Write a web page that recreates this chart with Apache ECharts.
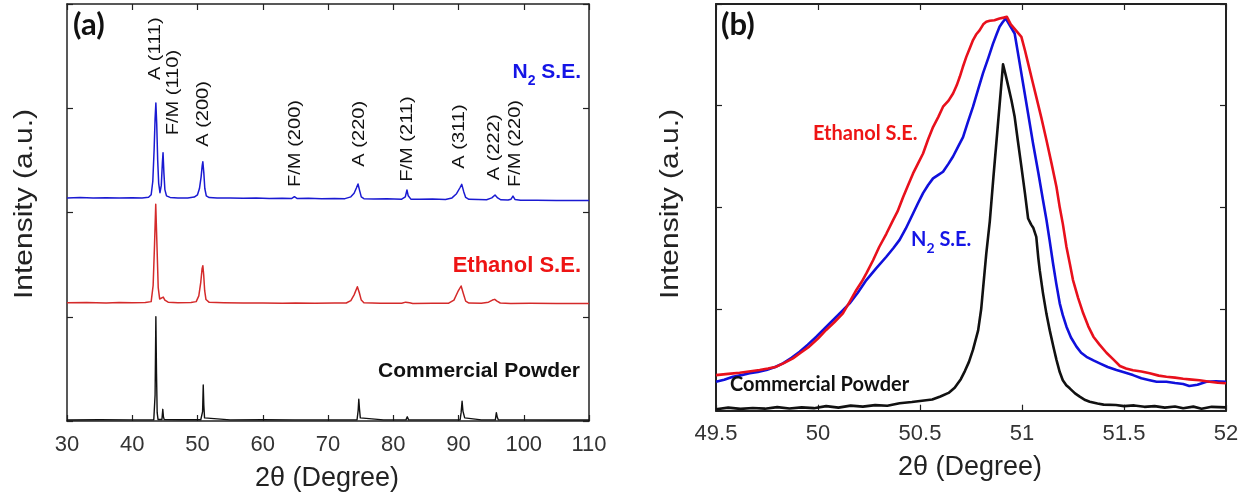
<!DOCTYPE html>
<html>
<head>
<meta charset="utf-8">
<script src="https://cdn.jsdelivr.net/npm/echarts@6/dist/echarts.min.js"></script>
<style>
  html, body { margin: 0; padding: 0; background: #fff; }
  #chart { width: 1248px; height: 496px; }
</style>
</head>
<body>
<div id="chart"></div>
<script>
// ---------- Panel (a): full XRD patterns, [2theta, intensity] ----------
const patternN2 = [
  [30.0, 2.140], [32.0, 2.143], [34.0, 2.139], [36.0, 2.142], [38.0, 2.138], [40.0, 2.141],
  [41.5, 2.140], [42.5, 2.146], [42.9, 2.170], [43.15, 2.300], [43.35, 2.600], [43.50, 2.900],
  [43.62, 3.050], [43.75, 2.850], [43.90, 2.500], [44.05, 2.280], [44.25, 2.190], [44.45, 2.260],
  [44.62, 2.480], [44.72, 2.574], [44.85, 2.380], [45.00, 2.220], [45.25, 2.160], [45.8, 2.145],
  [47.0, 2.140], [48.5, 2.140], [49.5, 2.148], [50.0, 2.170], [50.3, 2.230], [50.55, 2.340],
  [50.72, 2.450], [50.82, 2.487], [50.97, 2.380], [51.12, 2.230], [51.35, 2.160], [51.8, 2.143],
  [53.0, 2.138], [55.0, 2.140], [57.0, 2.136], [59.0, 2.139], [61.0, 2.135], [63.0, 2.137],
  [64.4, 2.134], [64.85, 2.152], [65.3, 2.134], [67.0, 2.136], [69.0, 2.132], [71.0, 2.134],
  [72.6, 2.133], [73.5, 2.150], [74.0, 2.185], [74.35, 2.235], [74.6, 2.273], [74.85, 2.210],
  [75.1, 2.150], [75.5, 2.133], [77.0, 2.130], [79.0, 2.132], [81.3, 2.128], [81.85, 2.150],
  [82.1, 2.216], [82.3, 2.160], [82.7, 2.128], [84.0, 2.127], [86.0, 2.129], [88.0, 2.125],
  [89.0, 2.140], [89.7, 2.180], [90.2, 2.235], [90.5, 2.270], [90.8, 2.200], [91.1, 2.145],
  [91.6, 2.126], [93.0, 2.124], [94.3, 2.123], [95.1, 2.140], [95.6, 2.168], [96.0, 2.140],
  [96.5, 2.122], [97.6, 2.120], [98.05, 2.128], [98.35, 2.158], [98.65, 2.125], [99.5, 2.118],
  [102.0, 2.117], [105.0, 2.116], [108.0, 2.114], [110.0, 2.115]
];

const patternEthanol = [
  [30.0, 1.135], [33.0, 1.137], [36.0, 1.133], [38.0, 1.136], [40.0, 1.134], [42.0, 1.136],
  [42.9, 1.145], [43.2, 1.300], [43.42, 1.700], [43.6, 2.080], [43.78, 1.700], [43.98, 1.280],
  [44.2, 1.170], [44.5, 1.165], [44.75, 1.188], [45.0, 1.160], [45.5, 1.140], [47.0, 1.135],
  [49.0, 1.136], [49.8, 1.145], [50.2, 1.200], [50.5, 1.330], [50.7, 1.460], [50.82, 1.490],
  [50.95, 1.400], [51.1, 1.250], [51.3, 1.165], [51.8, 1.138], [54.0, 1.134], [57.0, 1.131],
  [60.0, 1.133], [63.0, 1.130], [65.0, 1.132], [68.0, 1.130], [71.0, 1.131], [72.8, 1.132],
  [73.5, 1.155], [74.0, 1.210], [74.5, 1.288], [74.8, 1.230], [75.1, 1.160], [75.5, 1.135],
  [78.0, 1.130], [81.3, 1.129], [81.9, 1.140], [82.15, 1.152], [82.5, 1.135], [83.0, 1.128],
  [86.0, 1.130], [88.5, 1.130], [89.3, 1.160], [89.9, 1.240], [90.4, 1.295], [90.75, 1.220],
  [91.1, 1.150], [91.6, 1.131], [93.5, 1.130], [94.6, 1.140], [95.2, 1.160], [95.55, 1.167],
  [95.9, 1.150], [96.4, 1.132], [98.0, 1.128], [101.0, 1.129], [105.0, 1.127], [110.0, 1.128]
];

const patternCommercial = [
  [30.0, 0.010], [35.0, 0.012], [40.0, 0.011], [43.3, 0.012], [43.5, 0.250], [43.62, 1.000],
  [43.72, 0.450], [43.82, 0.080], [43.95, 0.015], [44.55, 0.014], [44.68, 0.112], [44.78, 0.040],
  [44.9, 0.013], [47.5, 0.012], [50.5, 0.012], [50.78, 0.090], [50.88, 0.345], [50.97, 0.150],
  [51.08, 0.030], [51.25, 0.012], [55.0, 0.011], [60.0, 0.012], [64.8, 0.011], [65.0, 0.022],
  [65.2, 0.011], [70.0, 0.011], [74.45, 0.012], [74.62, 0.100], [74.72, 0.208], [74.82, 0.120],
  [74.95, 0.030], [75.1, 0.012], [78.5, 0.011], [81.95, 0.011], [82.15, 0.040], [82.35, 0.011],
  [86.0, 0.011], [90.25, 0.012], [90.4, 0.080], [90.55, 0.190], [90.68, 0.095], [90.8, 0.105],
  [90.95, 0.030], [91.1, 0.011], [93.5, 0.011], [95.65, 0.011], [95.8, 0.080], [95.95, 0.035],
  [96.1, 0.011], [100.0, 0.011], [105.0, 0.010], [110.0, 0.010]
];

// Reflection labels and the data-space point where each label's text starts
const peakNames  = ['A (111)', 'F/M (110)', 'A (200)', 'F/M (200)', 'A (220)', 'F/M (211)', 'A (311)', 'A (222)', 'F/M (220)'];
const peakLabelX = [43.57, 46.33, 50.94, 65.05, 74.8, 82.2, 90.1, 95.5, 98.7];
const peakLabelY = [3.27, 2.74, 2.63, 2.245, 2.44, 2.295, 2.42, 2.31, 2.245];

// ---------- Panel (b): zoom on the A (200) reflection ----------
const zoomN2 = [
  [49.500, 0.285], [49.540, 0.305], [49.583, 0.334], [49.625, 0.350], [49.665, 0.368], [49.705, 0.382],
  [49.747, 0.400], [49.790, 0.430], [49.828, 0.466], [49.870, 0.520], [49.910, 0.580], [49.950, 0.650],
  [49.992, 0.728], [50.030, 0.805], [50.073, 0.890], [50.115, 0.975], [50.155, 1.056], [50.195, 1.160],
  [50.237, 1.285], [50.285, 1.400], [50.335, 1.514], [50.370, 1.600], [50.400, 1.680], [50.430, 1.790],
  [50.466, 1.940], [50.490, 2.040], [50.515, 2.140], [50.540, 2.220], [50.564, 2.285], [50.590, 2.320],
  [50.613, 2.350], [50.640, 2.430], [50.662, 2.500], [50.690, 2.610], [50.711, 2.690], [50.735, 2.840],
  [50.760, 2.990], [50.785, 3.160], [50.809, 3.320], [50.835, 3.470], [50.858, 3.610], [50.875, 3.700],
  [50.890, 3.776], [50.905, 3.820], [50.920, 3.858], [50.940, 3.790], [50.964, 3.710], [50.985, 3.460],
  [51.005, 3.220], [51.030, 2.920], [51.054, 2.630], [51.080, 2.340], [51.103, 2.070], [51.120, 1.875],
  [51.135, 1.680], [51.152, 1.450], [51.168, 1.250], [51.185, 1.056], [51.200, 0.940], [51.218, 0.826],
  [51.240, 0.720], [51.267, 0.630], [51.290, 0.570], [51.316, 0.530], [51.350, 0.495], [51.381, 0.466],
  [51.420, 0.430], [51.463, 0.400], [51.500, 0.378], [51.544, 0.350], [51.585, 0.320], [51.626, 0.300],
  [51.660, 0.285], [51.708, 0.285], [51.750, 0.272], [51.790, 0.262], [51.820, 0.243], [51.860, 0.255],
  [51.904, 0.285], [51.950, 0.288], [52.000, 0.285]
];

const zoomEthanol = [
  [49.500, 0.350], [49.560, 0.362], [49.616, 0.374], [49.670, 0.388], [49.714, 0.400], [49.755, 0.415],
  [49.796, 0.433], [49.835, 0.470], [49.877, 0.515], [49.915, 0.570], [49.957, 0.630], [50.000, 0.710],
  [50.040, 0.794], [50.080, 0.870], [50.122, 0.958], [50.155, 1.070], [50.188, 1.187], [50.215, 1.270],
  [50.237, 1.350], [50.270, 1.480], [50.300, 1.610], [50.335, 1.740], [50.368, 1.875], [50.390, 1.960],
  [50.417, 2.100], [50.440, 2.210], [50.466, 2.334], [50.490, 2.430], [50.515, 2.530], [50.540, 2.670],
  [50.564, 2.790], [50.590, 2.890], [50.613, 2.990], [50.640, 3.050], [50.662, 3.120], [50.680, 3.200],
  [50.695, 3.284], [50.710, 3.380], [50.727, 3.480], [50.745, 3.570], [50.760, 3.645], [50.775, 3.700],
  [50.792, 3.740], [50.810, 3.800], [50.825, 3.825], [50.842, 3.835], [50.865, 3.840], [50.890, 3.858],
  [50.910, 3.866], [50.926, 3.874], [50.945, 3.800], [50.970, 3.740], [50.997, 3.677], [51.015, 3.540],
  [51.030, 3.416], [51.050, 3.250], [51.070, 3.087], [51.095, 2.880], [51.120, 2.660], [51.145, 2.430],
  [51.169, 2.200], [51.185, 2.000], [51.200, 1.840], [51.218, 1.610], [51.235, 1.440], [51.250, 1.285],
  [51.275, 1.110], [51.300, 0.958], [51.325, 0.830], [51.350, 0.728], [51.380, 0.650], [51.414, 0.570],
  [51.450, 0.500], [51.480, 0.440], [51.510, 0.415], [51.544, 0.398], [51.585, 0.385], [51.626, 0.368],
  [51.670, 0.345], [51.708, 0.334], [51.750, 0.325], [51.790, 0.314], [51.820, 0.308], [51.870, 0.300],
  [51.920, 0.285], [51.960, 0.275], [52.000, 0.270]
];

const zoomCommercial = [
  [49.50, 0.014], [49.56, 0.030], [49.62, 0.018], [49.68, 0.026], [49.74, 0.020], [49.80, 0.035],
  [49.86, 0.022], [49.92, 0.033], [49.98, 0.025], [50.04, 0.045], [50.10, 0.030], [50.16, 0.050],
  [50.22, 0.040], [50.28, 0.055], [50.34, 0.048], [50.40, 0.073], [50.46, 0.085], [50.52, 0.100],
  [50.56, 0.110], [50.60, 0.140], [50.64, 0.175], [50.67, 0.225], [50.70, 0.310], [50.72, 0.390],
  [50.74, 0.480], [50.76, 0.600], [50.785, 0.790], [50.80, 1.000], [50.81, 1.220], [50.825, 1.548],
  [50.842, 1.860], [50.86, 2.300], [50.88, 2.770], [50.895, 3.120], [50.907, 3.406], [50.92, 3.300],
  [50.935, 3.170], [50.948, 3.055], [50.964, 2.890], [50.98, 2.650], [50.997, 2.400], [51.015, 2.130],
  [51.03, 1.890], [51.045, 1.830], [51.055, 1.800], [51.07, 1.710], [51.08, 1.500], [51.087, 1.380],
  [51.103, 1.154], [51.12, 0.950], [51.136, 0.790], [51.155, 0.620], [51.169, 0.500], [51.185, 0.380],
  [51.20, 0.300], [51.217, 0.250], [51.234, 0.220], [51.26, 0.170], [51.283, 0.138], [51.31, 0.105],
  [51.332, 0.088], [51.37, 0.070], [51.40, 0.060], [51.46, 0.056], [51.50, 0.045], [51.55, 0.052],
  [51.60, 0.038], [51.65, 0.045], [51.70, 0.030], [51.75, 0.042], [51.79, 0.024], [51.84, 0.040],
  [51.88, 0.020], [51.93, 0.038], [52.00, 0.033]
];

// ---------- styling ----------
const FONT = '"Liberation Sans", Arial, Helvetica, sans-serif';
const FONT_CAL = 'Lato, "Open Sans", sans-serif';
const AXIS_COLOR = '#222';
const BLACK = '#111111';

function xAxisDef(gridIndex, position, min, max, interval, showLabel, lineWidth, margin) {
  return {
    type: 'value', gridIndex, position, min, max, interval,
    axisLine: { show: true, onZero: false, lineStyle: { color: AXIS_COLOR, width: lineWidth } },
    axisTick: { show: true, inside: true, length: 6, lineStyle: { color: AXIS_COLOR, width: 1.2 } },
    axisLabel: {
      show: showLabel, margin, fontSize: 22, fontFamily: FONT, color: '#333',
      showMinLabel: true, showMaxLabel: true, hideOverlap: false
    },
    splitLine: { show: false }
  };
}
function yAxisDef(gridIndex, position, lineWidth) {
  return {
    type: 'value', gridIndex, position, min: 0, max: 4, interval: 1,
    axisLine: { show: true, onZero: false, lineStyle: { color: AXIS_COLOR, width: lineWidth } },
    axisTick: { show: true, inside: true, length: 6, lineStyle: { color: AXIS_COLOR, width: 1.2 } },
    axisLabel: { show: false },
    splitLine: { show: false }
  };
}
function lineSeries(name, data, xi, yi, color, width, z) {
  return {
    name, type: 'line', data, xAxisIndex: xi, yAxisIndex: yi,
    showSymbol: false, symbol: 'none', smooth: false, z,
    lineStyle: { color, width, join: 'round' },
    emphasis: { disabled: true }, silent: true
  };
}

const chart = echarts.init(document.getElementById('chart'), null, { renderer: 'canvas' });

const option = {
  animation: false,
  backgroundColor: '#ffffff',
  grid: [
    { left: 67, right: 659, top: 4, bottom: 75, outerBoundsMode: 'none' },
    { left: 716, right: 22, top: 4, bottom: 85.3, outerBoundsMode: 'none' }
  ],
  xAxis: [
    xAxisDef(0, 'bottom', 30, 110, 10, true, 1.5, 13),
    xAxisDef(0, 'top', 30, 110, 10, false, 1.5, 13),
    xAxisDef(1, 'bottom', 49.5, 52, 0.5, true, 2, 12),
    xAxisDef(1, 'top', 49.5, 52, 0.5, false, 2, 12)
  ],
  yAxis: [
    yAxisDef(0, 'left', 1.5),
    yAxisDef(0, 'right', 1.5),
    yAxisDef(1, 'left', 2),
    yAxisDef(1, 'right', 2)
  ],
  series: [
    lineSeries('N2 S.E.', patternN2, 0, 0, '#1a1ad2', 1.5, 2),
    lineSeries('Ethanol S.E.', patternEthanol, 0, 0, '#d42a2a', 1.5, 2),
    lineSeries('Commercial Powder', patternCommercial, 0, 0, BLACK, 1.4, 2),
    lineSeries('N2 S.E. (200)', zoomN2, 2, 2, '#1010dc', 2.6, 2),
    lineSeries('Ethanol S.E. (200)', zoomEthanol, 2, 2, '#e8101c', 2.6, 3),
    lineSeries('Commercial Powder (200)', zoomCommercial, 2, 2, BLACK, 2.6, 4)
  ]
};
chart.setOption(option);

// ---------- text overlays ----------
const toPx = (seriesIndex, x, y) => chart.convertToPixel({ seriesIndex }, [x, y]);

function text(x, y, str, s, extra) {
  return Object.assign({
    type: 'text', x, y, silent: true, z: 50,
    style: Object.assign({ text: str }, s)
  }, extra || {});
}

const graphics = [];

// reflection labels, reading bottom-to-top
peakNames.forEach((name, i) => {
  const p = toPx(0, peakLabelX[i], peakLabelY[i]);
  graphics.push(text(p[0], p[1], name, {
    fontSize: 17, fontFamily: FONT, fill: '#111', align: 'left', verticalAlign: 'middle'
  }, { rotation: Math.PI / 2, scaleX: 1.18 }));
});

// panel letters
const letter = { fontSize: 31, fontWeight: 'bold', fontFamily: FONT_CAL, fill: '#111', align: 'left', verticalAlign: 'middle' };
graphics.push(text(73, 25, '(a)', letter));
graphics.push(text(721, 25, '(b)', letter));

// axis titles
const yTitle = { fontSize: 25, fontFamily: FONT, fill: '#222', align: 'center', verticalAlign: 'middle' };
graphics.push(text(25, 204, 'Intensity (a.u.)', yTitle, { rotation: Math.PI / 2, scaleX: 1.2 }));
graphics.push(text(671, 204, 'Intensity (a.u.)', yTitle, { rotation: Math.PI / 2, scaleX: 1.2 }));
const xTitle = { fontSize: 27, fontFamily: FONT, fill: '#222', align: 'center', verticalAlign: 'middle' };
graphics.push(text(327, 479, '2\u03b8 (Degree)', xTitle));
graphics.push(text(970, 468, '2\u03b8 (Degree)', xTitle));

// sample names with a subscript digit
function n2Label(x, y, family, size, color, align) {
  return text(x, y, '{n|N}{s|2}{n| S.E.}', {
    align, verticalAlign: 'top',
    rich: {
      n: { fontSize: size, fontWeight: 'bold', fontFamily: family, fill: color, lineHeight: size + 5, verticalAlign: 'top' },
      s: { fontSize: Math.round(size * 0.68), fontWeight: 'bold', fontFamily: family, fill: color, lineHeight: 12, verticalAlign: 'bottom' }
    }
  });
}

// panel (a)
graphics.push(n2Label(581, 62, FONT, 21, '#1515e6', 'right'));
graphics.push(text(581, 266, 'Ethanol S.E.', { fontSize: 22, fontWeight: 'bold', fontFamily: FONT, fill: '#ee1414', align: 'right', verticalAlign: 'middle' }));
graphics.push(text(580, 371, 'Commercial Powder', { fontSize: 21, fontWeight: 'bold', fontFamily: FONT, fill: '#111', align: 'right', verticalAlign: 'middle' }));

// panel (b)
graphics.push(text(813, 134, 'Ethanol S.E.', { fontSize: 20, fontWeight: 'bold', fontFamily: FONT_CAL, fill: '#ee1414', align: 'left', verticalAlign: 'middle' }));
graphics.push(n2Label(911, 230, FONT_CAL, 20, '#1515e6', 'left'));
graphics.push(text(730, 385, 'Commercial Powder', { fontSize: 20, fontWeight: 'bold', fontFamily: FONT_CAL, fill: '#111', align: 'left', verticalAlign: 'middle' }));

chart.setOption({ graphic: graphics });
</script>
</body>
</html>
